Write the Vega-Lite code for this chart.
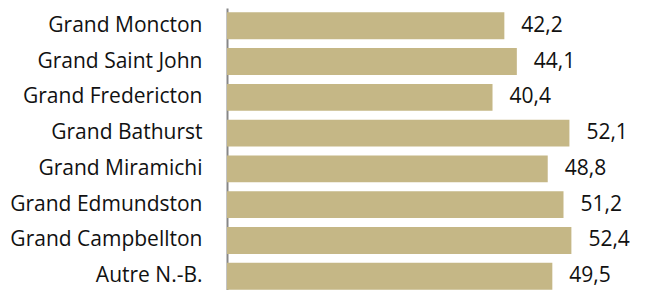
{
  "$schema": "https://vega.github.io/schema/vega-lite/v6.json",
  "autosize": "none",
  "width": 418,
  "height": 286,
  "padding": {"left": 227, "top": 8, "right": 0, "bottom": 0},
  "background": "white",
  "config": {
    "view": {"stroke": null},
    "locale": {"number": {"decimal": ",", "thousands": " ", "grouping": [3], "currency": ["", " $"]}},
    "font": "Open Sans"
  },
  "data": {"values": [
    {"region": "Grand Moncton", "value": 42.2},
    {"region": "Grand Saint John", "value": 44.1},
    {"region": "Grand Fredericton", "value": 40.4},
    {"region": "Grand Bathurst", "value": 52.1},
    {"region": "Grand Miramichi", "value": 48.8},
    {"region": "Grand Edmundston", "value": 51.2},
    {"region": "Grand Campbellton", "value": 52.4},
    {"region": "Autre N.-B.", "value": 49.5}
  ]},
  "encoding": {
    "y": {
      "field": "region", "type": "nominal", "sort": null,
      "scale": {"paddingInner": 0.25, "paddingOuter": 0.12},
      "axis": {
        "title": null, "ticks": false, "labelFontSize": 21, "labelColor": "#111111", "labelLimit": 300,
        "labelPadding": 25, "domainColor": "#878787", "domainWidth": 2, "labelFont": "Open Sans"
      }
    },
    "x": {
      "field": "value", "type": "quantitative",
      "scale": {"domain": [0, 63.6], "nice": false},
      "axis": null
    }
  },
  "layer": [
    {"mark": {"type": "bar", "color": "#C5B786"}},
    {
      "mark": {"type": "text", "align": "left", "dx": 17, "fontSize": 21, "color": "#111111", "font": "Open Sans"},
      "encoding": {"text": {"field": "value", "type": "quantitative", "format": ".1f"}}
    }
  ]
}
